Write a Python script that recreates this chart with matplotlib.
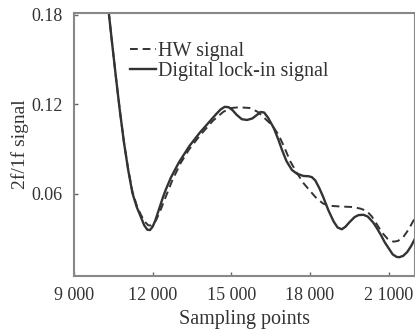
import matplotlib.pyplot as plt

plt.rcParams['font.family'] = ['Liberation Serif', 'DejaVu Serif']

# solid curve: digital lock-in signal
lockin_x = [10200, 10320, 10450, 10600, 10750, 10913, 11070, 11232, 11400, 11548,
            11680, 11800, 11900, 12000, 12100, 12250, 12400, 12500, 12700, 13000,
            13400, 13800, 14200, 14400, 14590, 14750, 14900, 15050, 15200, 15400,
            15600, 15800, 15950, 16110, 16250, 16400, 16620, 16800, 16930, 17100,
            17310, 17500, 17750, 17950, 18070, 18200, 18350, 18500, 18700, 18900,
            19050, 19210, 19350, 19500, 19700, 19850, 20035, 20200, 20400, 20550,
            20700, 20850, 21000, 21150, 21300, 21400, 21550, 21700, 21850, 22000]
lockin_y = [0.202, 0.183, 0.162, 0.1385, 0.116, 0.094, 0.076, 0.0605, 0.051, 0.0448,
            0.039, 0.036, 0.0358, 0.038, 0.042, 0.050, 0.058, 0.0627, 0.071, 0.081,
            0.092, 0.101, 0.109, 0.113, 0.1165, 0.1183, 0.118, 0.116, 0.113, 0.110,
            0.1095, 0.1105, 0.1125, 0.1148, 0.1145, 0.111, 0.104, 0.096, 0.0895, 0.082,
            0.076, 0.0735, 0.072, 0.0718, 0.0712, 0.069, 0.064, 0.058, 0.049, 0.0415,
            0.0375, 0.0363, 0.038, 0.041, 0.0445, 0.0458, 0.046, 0.0448, 0.041, 0.037,
            0.0325, 0.0275, 0.0235, 0.0195, 0.0178, 0.0176, 0.0185, 0.021, 0.025, 0.030]

# dashed curve: HW signal
hw_x = [10200, 10320, 10450, 10600, 10750, 10913, 11070, 11232, 11400, 11548,
        11700, 11830, 11950, 12050, 12150, 12300, 12500, 12750, 13068, 13400,
        13800, 14300, 14700, 15000, 15300, 15700, 16000, 16250, 16550, 16800,
        17000, 17250, 17500, 17750, 18000, 18250, 18500, 18770, 19200, 19650,
        19950, 20160, 20350, 20550, 20750, 20950, 21180, 21350, 21550, 21750, 22000]
hw_y = [0.202, 0.183, 0.162, 0.1385, 0.116, 0.094, 0.0765, 0.0615, 0.052, 0.0462,
        0.0415, 0.039, 0.0388, 0.040, 0.043, 0.049, 0.058, 0.069, 0.0806, 0.090,
        0.099, 0.109, 0.115, 0.1175, 0.118, 0.1175, 0.115, 0.111, 0.106, 0.0996,
        0.092, 0.0817, 0.074, 0.0672, 0.062, 0.057, 0.0535, 0.052, 0.0515, 0.0512,
        0.050, 0.0485, 0.045, 0.0395, 0.034, 0.030, 0.028, 0.0285, 0.031, 0.036, 0.044]

xticks = [9000, 12000, 15000, 18000, 21000]
xtick_labels = ["9 000", "12 000", "15 000", "18 000", "2 1000"]
yticks = [0.06, 0.12, 0.18]
ytick_labels = ["0.06", "0.12", "0.18"]

fig = plt.figure(figsize=(4.15, 3.29), dpi=100)
ax = fig.add_axes([0.178, 0.161, 0.822, 0.799])

ax.plot(hw_x, hw_y, '--', color='#333333', lw=1.4, dashes=(4, 2.5), label="HW signal")
ax.plot(lockin_x, lockin_y, '-', color='#333333', lw=1.7, label="Digital lock-in signal")

ax.set_xlim(9000, 22000)
ax.set_ylim(0.005, 0.181)
ax.set_xticks(xticks)
ax.set_xticklabels(xtick_labels)
ax.set_yticks(yticks)
ax.set_yticklabels(ytick_labels)
ax.tick_params(direction='in', length=3, width=1, color='#666666',
               labelsize=13, labelcolor='#333333', pad=8)

for side in ax.spines:
    ax.spines[side].set_color('#888888')
    ax.spines[side].set_linewidth(1.5)

ax.set_xlabel("Sampling points", fontsize=14.5, color='#333333', labelpad=4)
ax.set_ylabel("2f/1f signal", fontsize=14, color='#333333', labelpad=2)

ax.legend(loc='upper left', bbox_to_anchor=(0.135, 0.93), frameon=False,
          fontsize=14.5, handlelength=1.3, handletextpad=0.1, borderpad=0,
          labelspacing=0.05, labelcolor='#333333')

fig.savefig("out.png")
